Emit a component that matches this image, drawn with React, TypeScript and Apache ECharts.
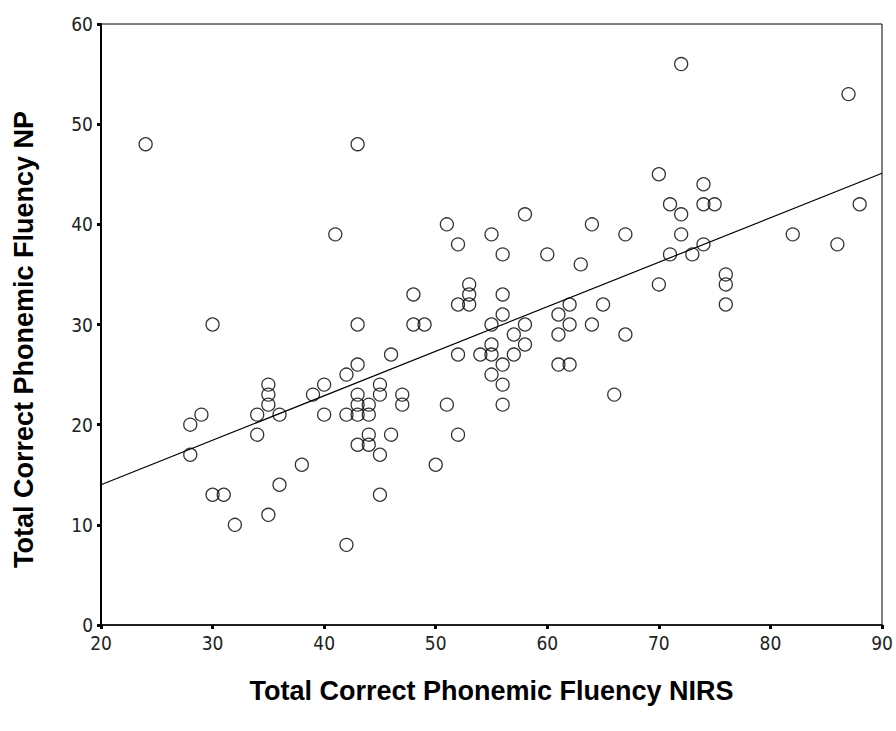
import React, { useEffect, useRef } from "react";
import * as echarts from "echarts";

// Scatter data: [Total Correct Phonemic Fluency NIRS, Total Correct Phonemic Fluency NP]
const nirsValues: number[] = [
  24, 43, 72, 87, 70, 74, 71, 74, 75, 88, 72, 58, 51, 64, 41, 55, 67, 72, 82,
  52, 74, 86, 56, 60, 71, 73, 63, 76, 53, 70, 76, 48, 53, 56, 52, 53, 62, 65, 76,
  56, 61, 30, 43, 48, 49, 55, 58, 62, 64, 57, 61, 67, 55, 58, 46, 52, 54, 55, 57,
  43, 56, 61, 62, 42, 55, 35, 40, 45, 56, 35, 39, 43, 45, 47, 66, 35, 43, 44, 47,
  51, 56, 29, 34, 36, 40, 42, 43, 44, 28, 34, 44, 46, 52, 43, 44, 28, 45, 38, 50,
  36, 30, 31, 45, 35, 32, 42,
];
const npValues: number[] = [
  48, 48, 56, 53, 45, 44, 42, 42, 42, 42, 41, 41, 40, 40, 39, 39, 39, 39, 39,
  38, 38, 38, 37, 37, 37, 37, 36, 35, 34, 34, 34, 33, 33, 33, 32, 32, 32, 32, 32,
  31, 31, 30, 30, 30, 30, 30, 30, 30, 30, 29, 29, 29, 28, 28, 27, 27, 27, 27, 27,
  26, 26, 26, 26, 25, 25, 24, 24, 24, 24, 23, 23, 23, 23, 23, 23, 22, 22, 22, 22,
  22, 22, 21, 21, 21, 21, 21, 21, 21, 20, 19, 19, 19, 19, 18, 18, 17, 17, 16, 16,
  14, 13, 13, 13, 11, 10, 8,
];
// Fit line end points
const fitX: number[] = [20, 90];
const fitY: number[] = [14.0, 45.1];

const xTicks = { min: 20, max: 90, interval: 10 };
const yTicks = { min: 0, max: 60, interval: 10 };

const xTitle = "Total Correct Phonemic Fluency NIRS";
const yTitle = "Total Correct Phonemic Fluency NP";

export default function App() {
  const ref = useRef<HTMLDivElement>(null);
  useEffect(() => {
    if (!ref.current) return;
    const chart = echarts.init(ref.current, undefined, { renderer: "svg" });
    const points = nirsValues.map((x, i) => [x, npValues[i]]);
    const fit = fitX.map((x, i) => [x, fitY[i]]);
    const tickFont = "'DejaVu Sans Condensed', 'Liberation Sans Narrow', 'Liberation Sans', Arial, sans-serif";
    const titleFont = "'Liberation Sans', Arial, sans-serif";
    chart.setOption({
      animation: false,
      backgroundColor: "#fff",
      grid: {
        left: 101,
        top: 24,
        width: 781,
        height: 601,
        show: true,
        borderColor: "#000",
        borderWidth: 1,
        backgroundColor: "transparent",
      },
      xAxis: {
        type: "value",
        min: xTicks.min,
        max: xTicks.max,
        interval: xTicks.interval,
        name: xTitle,
        nameLocation: "middle",
        nameGap: 52,
        nameTextStyle: { fontFamily: titleFont, fontWeight: "bold", fontSize: 27, color: "#000" },
        axisLine: { show: true, onZero: false, lineStyle: { color: "#000", width: 1.5 } },
        axisTick: { show: true, length: 4, lineStyle: { color: "#000", width: 3 } },
        axisLabel: { color: "#222", fontSize: 19, fontFamily: tickFont, margin: 8 },
        splitLine: { show: false },
      },
      yAxis: {
        type: "value",
        min: yTicks.min,
        max: yTicks.max,
        interval: yTicks.interval,
        name: yTitle,
        nameLocation: "middle",
        nameGap: 64,
        nameTextStyle: {
          fontFamily: titleFont,
          fontWeight: "bold",
          fontSize: 27,
          color: "#000",
          padding: [0, 30, 0, 0],
        },
        axisLine: { show: true, onZero: false, lineStyle: { color: "#000", width: 2 } },
        axisTick: { show: true, length: 4, lineStyle: { color: "#000", width: 3 } },
        axisLabel: { color: "#222", fontSize: 19, fontFamily: tickFont, margin: 8 },
        splitLine: { show: false },
      },
      series: [
        {
          type: "line",
          data: fit,
          showSymbol: false,
          symbol: "none",
          lineStyle: { color: "#000", width: 1.2 },
          silent: true,
          z: 1,
        },
        {
          type: "scatter",
          data: points,
          symbol: "circle",
          symbolSize: 13,
          itemStyle: { color: "rgba(0,0,0,0)", borderColor: "#000", borderWidth: 1.3 },
          z: 2,
        },
      ],
    });
    return () => chart.dispose();
  }, []);
  return (
    <div
      ref={ref}
      style={{ position: "fixed", left: 0, top: 0, width: 896, height: 731, background: "#fff" }}
    />
  );
}
